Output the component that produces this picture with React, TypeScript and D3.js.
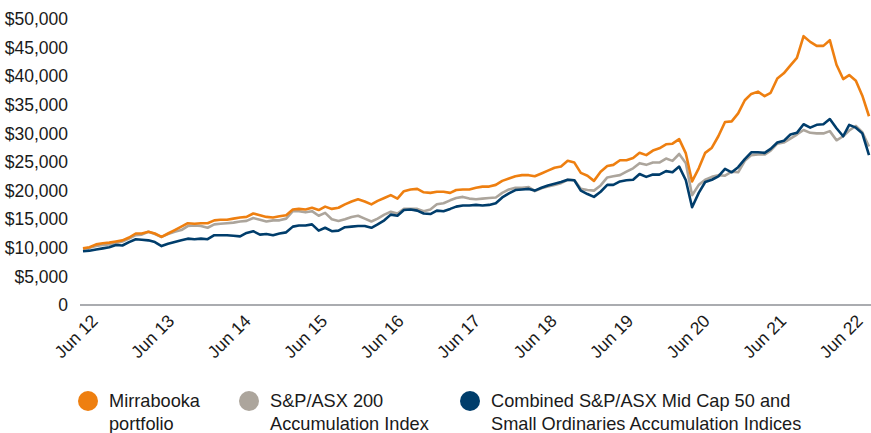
import React from 'react';
import * as d3 from 'd3';

// monthly values, Jun 2012 .. Jun 2022 (growth of $10,000)
const mirrabooka = [
  9900, 10100, 10600, 10800, 10900, 11100, 11300, 11800, 12500, 12500, 12800, 12500,
  11900, 12500, 13100, 13700, 14300, 14200, 14300, 14300, 14800, 14900, 14900, 15100,
  15300, 15400, 16000, 15700, 15400, 15300, 15500, 15700, 16700, 16800, 16700, 17000,
  16600, 17200, 16800, 17000, 17600, 18100, 18500, 18100, 17600, 18200, 18700, 19200,
  18600, 19900, 20200, 20300, 19700, 19600, 19800, 19800, 19600, 20100, 20200, 20200,
  20500, 20700, 20700, 21000, 21700, 22100, 22500, 22700, 22700, 22500, 23000, 23500,
  24000, 24200, 25200, 24900, 23100, 22600, 21700, 23300, 24300, 24500, 25300, 25300,
  25700, 26600, 26200, 27000, 27400, 28100, 28200, 29000, 26500, 21600, 23900, 26600,
  27500, 29500, 32000, 32100, 33500, 35800, 36900, 37300, 36500, 37100, 39600, 40500,
  41900, 43200, 47000, 46000, 45300, 45300, 46300, 42000, 39500, 40200, 39200, 36600,
  33000
];

const asx200 = [
  9800, 10000, 10300, 10500, 10600, 10800, 11100, 11600, 12200, 12300, 12800, 12400,
  11900, 12400, 12800, 13100, 13800, 13900, 13800, 13500, 14100, 14200, 14300, 14400,
  14600, 14700, 15200, 14900, 14600, 14800, 14800, 15100, 16400, 16400, 16200, 16400,
  15600, 16100, 15000, 14700, 15000, 15400, 15600, 15100, 14600, 15100, 15800, 16300,
  16000, 16800, 16800, 16800, 16400, 16700, 17600, 17800, 18300, 18700, 18900, 18600,
  18500, 18600, 18700, 18800, 19600, 20200, 20500, 20500, 20600, 19900, 20400, 20700,
  21000, 21300, 21900, 21800, 20300, 20100, 20000, 20900, 22300, 22500, 22700, 23300,
  23900, 24800, 24500, 24900, 24900, 25600, 25200, 26400, 24800, 19200, 21000, 21900,
  22400, 22700, 22600, 23300, 23200, 25200, 26200, 26300, 26300, 27000, 28200, 28400,
  29100, 29800, 30600, 30100, 30000, 30000, 30400, 28800, 29500, 30500, 31300, 30200,
  27700
];

const midSmall = [
  9400, 9500, 9700, 9900, 10100, 10500, 10400, 11000, 11500, 11400, 11300, 11000,
  10300, 10700, 11000, 11300, 11600, 11500, 11600, 11500, 12200, 12200, 12200, 12100,
  12000, 12600, 12900, 12300, 12400, 12200, 12500, 12700, 13700, 13900, 13900, 14100,
  13000, 13500, 12900, 13000, 13600, 13700, 13800, 13800, 13500, 14100, 14800, 15800,
  15600, 16600, 16700, 16500, 16000, 15900, 16500, 16400, 16800, 17200, 17400, 17400,
  17500, 17400, 17500, 17800, 18800, 19500, 20100, 20200, 20300, 20000, 20500, 20900,
  21200, 21500, 21900, 21800, 20000, 19400, 18900, 19800, 21000, 21000, 21600, 21800,
  21900, 22900, 22400, 22800, 22800, 23400, 23200, 24200, 21800, 17100, 19600, 21500,
  21900, 22500, 23800, 23200, 24100, 25500, 26700, 26700, 26600, 27300, 28400, 28700,
  29800, 30100, 31600, 31000, 31500, 31600, 32500, 30900, 29500, 31500, 31000, 30000,
  26200
];

const tickLabels = ['Jun 12', 'Jun 13', 'Jun 14', 'Jun 15', 'Jun 16', 'Jun 17', 'Jun 18', 'Jun 19', 'Jun 20', 'Jun 21', 'Jun 22'];
const yTicks = [0, 5000, 10000, 15000, 20000, 25000, 30000, 35000, 40000, 45000, 50000];

const seriesNames = ['Mirrabooka', 'S&P/ASX 200', 'Combined'];
const legendLines = [
  ['Mirrabooka', 'portfolio'],
  ['S&P/ASX 200', 'Accumulation Index'],
  ['Combined S&P/ASX Mid Cap 50 and', 'Small Ordinaries Accumulation Indices']
];
const colors = ['#ee7f10', '#aca59c', '#003d6b'];

const W = 871, H = 433;
const font = '"Liberation Sans", Arial, Helvetica, sans-serif';

export default function App() {
  const start = new Date(2012, 5, 1);
  const dates = mirrabooka.map((_, i) => d3.timeMonth.offset(start, i));

  const x = d3.scaleTime()
    .domain([dates[0], dates[dates.length - 1]])
    .range([83, 869]);

  const y = d3.scaleLinear()
    .domain([0, 50000])
    .range([305, 19]);

  const labelX = d3.scalePoint()
    .domain(tickLabels)
    .range([99, 864]);

  const line = d3.line<number>()
    .x((d, i) => x(dates[i]))
    .y(d => y(d));

  const series = [asx200, midSmall, mirrabooka];
  const seriesColors = [colors[1], colors[2], colors[0]];

  const legendX = d3.scaleOrdinal<string, number>()
    .domain(seriesNames)
    .range([88, 249, 470]);

  const fmt = (v: number) => v === 0 ? '0' : '$' + d3.format(',')(v);

  return (
    <svg width={W} height={H} style={{ position: 'absolute', left: 0, top: 0, display: 'block', background: '#fff' }}
      fontFamily={font}>
      {yTicks.map(t => (
        <text key={t} x={68} y={y(t)} dy="0.35em" textAnchor="end" fontSize={17.5} fill="#1a1a1a">{fmt(t)}</text>
      ))}

      <line x1={80} x2={871} y1={y(0)} y2={y(0)} stroke="#8e9196" strokeWidth={1.5} />

      {tickLabels.map(l => (
        <text key={l} transform={`translate(${labelX(l)},${322}) rotate(-45)`} textAnchor="end"
          fontSize={17.5} fill="#1a1a1a">{l}</text>
      ))}

      {series.map((s, i) => (
        <path key={i} d={line(s) || ''} fill="none" stroke={seriesColors[i]} strokeWidth={2.6}
          strokeLinejoin="round" />
      ))}

      {seriesNames.map((n, i) => (
        <g key={n}>
          <circle cx={legendX(n)} cy={401} r={10} fill={colors[i]} />
          {legendLines[i].map((t, j) => (
            <text key={j} x={legendX(n) + 21} y={401 + j * 23} dy="0.35em" fontSize={18.2} fill="#1a1a1a">{t}</text>
          ))}
        </g>
      ))}
    </svg>
  );
}
